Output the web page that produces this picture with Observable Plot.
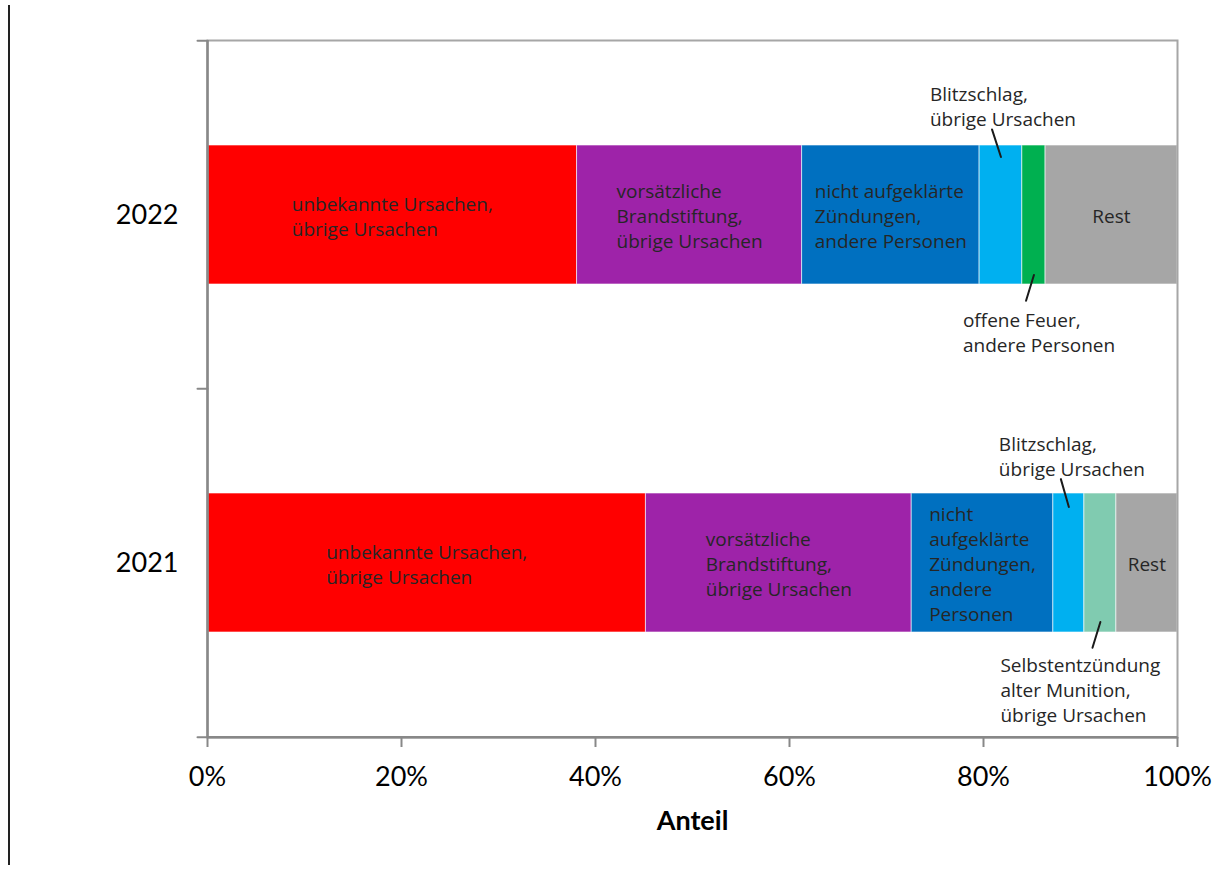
<!DOCTYPE html>
<html><head><meta charset="utf-8">
<script src="https://cdn.jsdelivr.net/npm/d3@7"></script>
<script src="https://cdn.jsdelivr.net/npm/@observablehq/plot@0.6"></script>
<style>
body{margin:0;background:#fff;}
#wrap{position:relative;width:1218px;height:869px;}
#wrap svg{position:absolute;left:0;top:0;}
#edge{position:absolute;left:8px;top:5px;width:0;height:860px;border-left:2px solid #222;z-index:2;}
</style></head><body>
<div id="wrap"><div id="edge"></div></div>
<script>
const years = ["2022", "2021"];
const categories = [
  "unbekannte Ursachen, übrige Ursachen",
  "vorsätzliche Brandstiftung, übrige Ursachen",
  "nicht aufgeklärte Zündungen, andere Personen",
  "Blitzschlag, übrige Ursachen",
  "offene Feuer, andere Personen",
  "Selbstentzündung alter Munition, übrige Ursachen",
  "Rest"
];
const colors = ["#ff0000", "#9e23a9", "#0070c0", "#00b0f0", "#00b050", "#80cbb0", "#a6a6a6"];
const values2022 = [38.1, 23.2, 18.3, 4.4, 2.4, 0, 13.6];
const values2021 = [45.2, 27.4, 14.6, 3.2, 0, 3.3, 6.3];
const labels2022 = ["unbekannte Ursachen,\nübrige Ursachen", "vorsätzliche\nBrandstiftung,\nübrige Ursachen", "nicht aufgeklärte\nZündungen,\nandere Personen", "", "", "", "Rest"];
const labels2021 = ["unbekannte Ursachen,\nübrige Ursachen", "vorsätzliche\nBrandstiftung,\nübrige Ursachen", "nicht\naufgeklärte\nZündungen,\nandere\nPersonen", "", "", "", "Rest"];
const xTicks = [0, 20, 40, 60, 80, 100];
const annotations = [
  {year: "2022", category: 3, text: "Blitzschlag,\nübrige Ursachen", side: "above"},
  {year: "2022", category: 4, text: "offene Feuer,\nandere Personen", side: "below"},
  {year: "2021", category: 3, text: "Blitzschlag,\nübrige Ursachen", side: "above"},
  {year: "2021", category: 5, text: "Selbstentzündung\nalter Munition,\nübrige Ursachen", side: "below"}
];
// pixel layout of annotation leaders/labels (style, not data)
const annotationLayout = [
  {lineDy: -58, rotate: -18, length: 29, dx: -71, dy: -89},
  {lineDy: 60, rotate: 197, length: 27, dx: -71, dy: 94},
  {lineDy: -56, rotate: -16, length: 29, dx: -70, dy: -87},
  {lineDy: 59, rotate: 197, length: 27, dx: -100, dy: 91}
];

const valuesByYear = {"2022": values2022, "2021": values2021};
const labelsByYear = {"2022": labels2022, "2021": labels2021};
const rows = years.flatMap(year => categories.map((category, i) => ({
  year, category, value: valuesByYear[year][i], label: labelsByYear[year][i]
})).filter(d => d.value > 0));

function center(year, i) {
  const v = valuesByYear[year];
  return d3.sum(v.slice(0, i)) + v[i] / 2;
}

const W = 1218, H = 869, mL = 207, mR = 41, mT = 40, mB = 132;
const halfStep = (H - mT - mB) / years.length / 2;
const lineShape = {draw(context, l) { context.moveTo(0, 0); context.lineTo(0, -l); }};
const font = "Open Sans";
const axisFont = "Lato";
const fs = 19, lh = 1.32;

const annMarks = annotations.flatMap((a, k) => {
  const L = annotationLayout[k];
  const d = [{year: a.year, x: center(a.year, a.category), text: a.text}];
  return [
    Plot.vector(d, {x: "x", y: "year", length: L.length, rotate: L.rotate, anchor: "start", dy: L.lineDy,
      shape: lineShape, stroke: "#1a1a1a", strokeWidth: 2}),
    Plot.text(d, {x: "x", y: "year", text: "text", textAnchor: "start",
      lineAnchor: a.side === "above" ? "bottom" : "top", dx: L.dx, dy: L.dy,
      fontSize: fs, fontFamily: font, fill: "#262626", lineHeight: lh})
  ];
});

const chart = Plot.plot({
  width: W, height: H,
  marginLeft: mL, marginRight: mR, marginTop: mT, marginBottom: mB,
  style: {color: "black", background: "white", overflow: "visible"},
  x: {domain: [0, 100]},
  y: {domain: years, paddingInner: 0.6, paddingOuter: 0.3},
  color: {domain: categories, range: colors},
  marks: [
    Plot.barX(rows, Plot.stackX({x: "value", y: "year", fill: "category", order: null,
      stroke: "white", strokeOpacity: 0.6, strokeWidth: 1})),
    Plot.text(rows, Plot.stackX({x: "value", y: "year", z: "category", text: "label", order: null,
      textAnchor: "start", lineAnchor: "middle", lineHeight: lh,
      fontSize: fs, fontFamily: font, fill: "#262626"})),
    ...annMarks,
    Plot.frame({stroke: "#a6a6a6", strokeWidth: 2}),
    Plot.ruleX([0], {stroke: "#888", strokeWidth: 2.5}),
    Plot.link([years[years.length - 1]], {x1: 0, x2: 100, y1: d => d, y2: d => d, dy: halfStep,
      stroke: "#888", strokeWidth: 2.5}),
    Plot.vector(years, {x: 0, y: d => d, length: 10, rotate: 270, anchor: "start", dy: -halfStep,
      shape: lineShape, stroke: "#888", strokeWidth: 2}),
    Plot.vector([years[years.length - 1]], {x: 0, y: d => d, length: 10, rotate: 270, anchor: "start", dy: halfStep,
      shape: lineShape, stroke: "#888", strokeWidth: 2}),
    Plot.axisX({ticks: xTicks, tickFormat: d => d + "%", tickSize: 10, tickPadding: 19,
      fontSize: 27, fontFamily: axisFont, stroke: "#888", strokeWidth: 2, label: null}),
    Plot.axisY({tickSize: 0, tickPadding: 29, fontSize: 27, fontFamily: axisFont, label: null}),
    Plot.text(["Anteil"], {frameAnchor: "bottom", dy: 92, text: d => d, fontWeight: "bold",
      fontSize: 27, fontFamily: axisFont, fill: "black"})
  ]
});

document.getElementById("wrap").append(chart);

// centre each inside label block on its segment while keeping its lines left-aligned
const insideGroup = chart.querySelectorAll('g[aria-label="text"]')[0];
if (insideGroup) {
  insideGroup.querySelectorAll("text").forEach(t => {
    const w = t.getBBox().width;
    const tr = t.getAttribute("transform") || "";
    t.setAttribute("transform", tr + ` translate(${-w / 2},0)`);
  });
}
</script>
</body></html>
